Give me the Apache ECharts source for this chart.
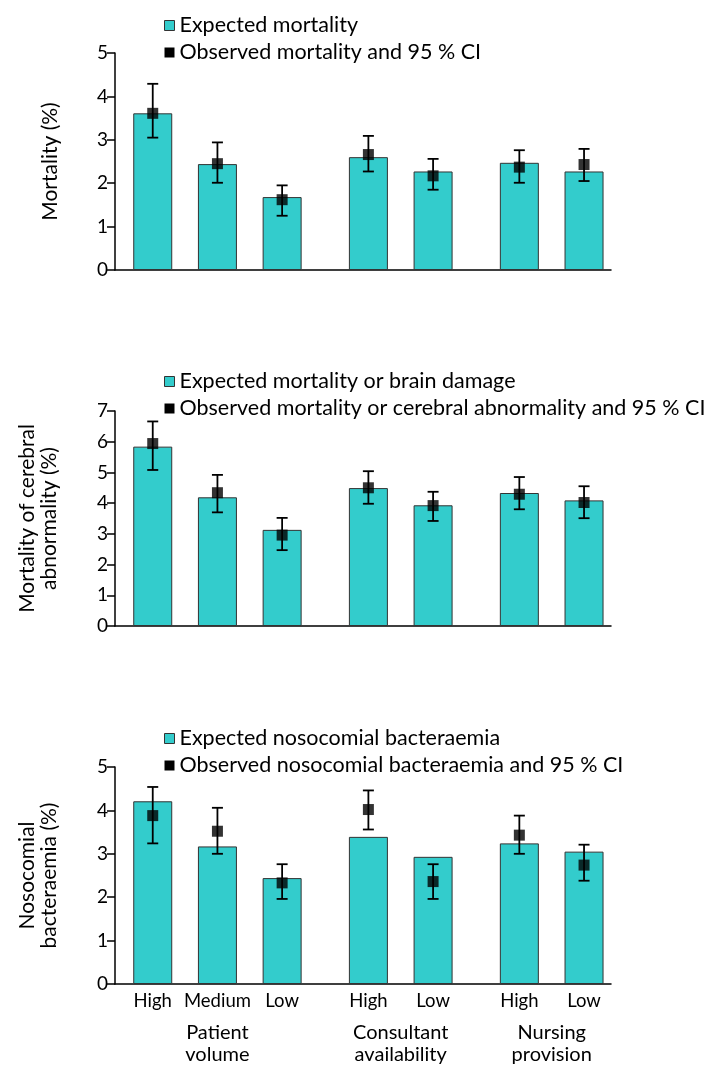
<!DOCTYPE html>
<html>
<head>
<meta charset="utf-8">
<script src="https://cdn.jsdelivr.net/npm/echarts@6/dist/echarts.min.js"></script>
<style>html,body{margin:0;padding:0;background:#fff}#c{width:707px;height:1068px}</style>
</head>
<body>
<div id="c"></div>
<script>
// ---- data ----
const categories = ['High', 'Medium', 'Low', 'High', 'Low', 'High', 'Low'];
const groupLabels = ['Patient\nvolume', 'Consultant\navailability', 'Nursing\nprovision'];
const groupSizes = [3, 2, 2];

const expMortality = [3.61, 2.44, 1.68, 2.60, 2.27, 2.47, 2.27];
const obsMortality = [3.61, 2.45, 1.62, 2.66, 2.17, 2.37, 2.43];
const obsMortalityLo = [3.05, 2.01, 1.25, 2.27, 1.85, 2.01, 2.05];
const obsMortalityHi = [4.29, 2.94, 1.95, 3.09, 2.56, 2.76, 2.79];

const expBrain = [5.84, 4.19, 3.13, 4.49, 3.93, 4.33, 4.09];
const obsBrain = [5.94, 4.34, 2.96, 4.50, 3.92, 4.29, 4.02];
const obsBrainLo = [5.08, 3.70, 2.47, 3.98, 3.42, 3.80, 3.51];
const obsBrainHi = [6.66, 4.92, 3.52, 5.04, 4.37, 4.85, 4.55];

const expBact = [4.21, 3.17, 2.44, 3.39, 2.93, 3.24, 3.05];
const obsBact = [3.88, 3.52, 2.33, 4.02, 2.36, 3.43, 2.74];
const obsBactLo = [3.24, 3.00, 1.96, 3.56, 1.96, 3.00, 2.38];
const obsBactHi = [4.54, 4.06, 2.76, 4.46, 2.76, 3.88, 3.21];

const yMax = [5, 7, 5];

// ---- layout helpers (slot grid on a category axis) ----
const NSLOTS = 46, FIRST = 3, STEP = 6, GROUPSTEP = 8;
const barSlots = [];
const groupSlots = [];
{
  let s = FIRST;
  groupSizes.forEach((n, g) => {
    const start = s;
    for (let i = 0; i < n; i++) { barSlots.push(s); if (i < n - 1) s += STEP; }
    groupSlots.push((start + s) / 2);
    s += GROUPSTEP;
  });
}
const slotCats = Array.from({length: NSLOTS}, (_, i) => String(i));
const catLabelAt = {}; barSlots.forEach((s, i) => catLabelAt[s] = categories[i]);
const grpLabelAt = {}; groupSlots.forEach((s, i) => grpLabelAt[s] = groupLabels[i]);

const FONT = 'Lato';
const TEAL = '#33CCCC';

const panels = [
  {top: 53, height: 217, exp: expMortality, obs: obsMortality, lo: obsMortalityLo, hi: obsMortalityHi,
   expName: 'Expected mortality', obsName: 'Observed mortality and 95 % CI',
   yName: 'Mortality (%)', legendTop: 9.5},
  {top: 411, height: 215, exp: expBrain, obs: obsBrain, lo: obsBrainLo, hi: obsBrainHi,
   expName: 'Expected mortality or brain damage', obsName: 'Observed mortality or cerebral abnormality and 95 % CI',
   yName: 'Mortality of cerebral\nabnormality (%)', legendTop: 365.5},
  {top: 767, height: 217, exp: expBact, obs: obsBact, lo: obsBactLo, hi: obsBactHi,
   expName: 'Expected nosocomial bacteraemia', obsName: 'Observed nosocomial bacteraemia and 95 % CI',
   yName: 'Nosocomial\nbacteraemia (%)', legendTop: 722.5}
];

const grid = [], xAxis = [], yAxis = [], series = [], legend = [];
const gridLeft = 115, gridWidth = 496;

panels.forEach((p, k) => {
  grid.push({left: gridLeft, width: gridWidth, top: p.top, height: p.height});
  const isLast = k === panels.length - 1;
  const twoLine = p.yName.indexOf('\n') >= 0;
  xAxis.push({
    type: 'category', gridIndex: k, data: slotCats, boundaryGap: true,
    axisLine: {lineStyle: {color: '#000', width: 1.5}},
    axisTick: {show: false},
    axisLabel: {show: isLast, interval: 0, margin: 8, color: '#000', fontFamily: FONT, fontSize: 18.5,
      formatter: v => catLabelAt[+v] || ''}
  });
  yAxis.push({
    type: 'value', gridIndex: k, min: 0, max: yMax[k], interval: 1,
    name: p.yName, nameLocation: 'middle', nameRotate: 90,
    nameGap: twoLine ? 55 : 54,
    nameTextStyle: {color: '#000', fontFamily: FONT, fontSize: 21, lineHeight: twoLine ? 22 : 21},
    axisLine: {show: true, lineStyle: {color: '#000', width: 1.5}},
    axisTick: {show: true, length: 8, lineStyle: {color: '#000', width: 1.5}},
    axisLabel: {color: '#000', fontFamily: FONT, fontSize: 19, margin: 7},
    splitLine: {show: false}
  });
  series.push({
    name: p.expName, type: 'bar', xAxisIndex: k, yAxisIndex: k, barWidth: 39,
    itemStyle: {color: TEAL, borderColor: '#333', borderWidth: 1},
    data: p.exp.map((v, i) => [barSlots[i], v]), z: 2
  });
  series.push({
    name: p.obsName, type: 'custom', xAxisIndex: k, yAxisIndex: k, z: 3,
    data: p.obs.map((v, i) => [barSlots[i], p.lo[i], p.hi[i]]),
    renderItem: (params, api) => {
      const a = api.coord([api.value(0), api.value(1)]);
      const b = api.coord([api.value(0), api.value(2)]);
      const w = 5.5;
      const st = {stroke: '#000', lineWidth: 1.8};
      return {type: 'group', children: [
        {type: 'line', shape: {x1: a[0], y1: a[1], x2: b[0], y2: b[1]}, style: st},
        {type: 'line', shape: {x1: a[0] - w, y1: a[1], x2: a[0] + w, y2: a[1]}, style: st},
        {type: 'line', shape: {x1: b[0] - w, y1: b[1], x2: b[0] + w, y2: b[1]}, style: st}
      ]};
    }
  });
  series.push({
    name: p.obsName, type: 'scatter', xAxisIndex: k, yAxisIndex: k, z: 4,
    symbol: 'rect', symbolSize: 11, itemStyle: {color: '#000'},
    data: p.obs.map((v, i) => [barSlots[i], v])
  });
  legend.push({
    orient: 'vertical', left: 159, top: p.legendTop, itemWidth: 10, itemHeight: 10, itemGap: 5,
    itemTextGap: 12, selectedMode: false,
    textStyle: {color: '#000', fontFamily: FONT, fontSize: 21.5, lineHeight: 21},
    data: [
      {name: p.expName, icon: 'rect', itemStyle: {color: TEAL, borderColor: '#333', borderWidth: 1}},
      {name: p.obsName, icon: 'rect', itemStyle: {color: '#000'}}
    ]
  });
});

// group labels axis under the last panel
xAxis.push({
  type: 'category', gridIndex: panels.length - 1, data: slotCats, position: 'bottom',
  axisLine: {show: false}, axisTick: {show: false},
  axisLabel: {interval: 0, margin: 38, color: '#000', fontFamily: FONT, fontSize: 20, lineHeight: 22,
    formatter: v => grpLabelAt[+v] || ''}
});

const chart = echarts.init(document.getElementById('c'), null, {renderer: 'canvas'});
chart.setOption({animation: false, grid, xAxis, yAxis, series, legend});
</script>
</body>
</html>
